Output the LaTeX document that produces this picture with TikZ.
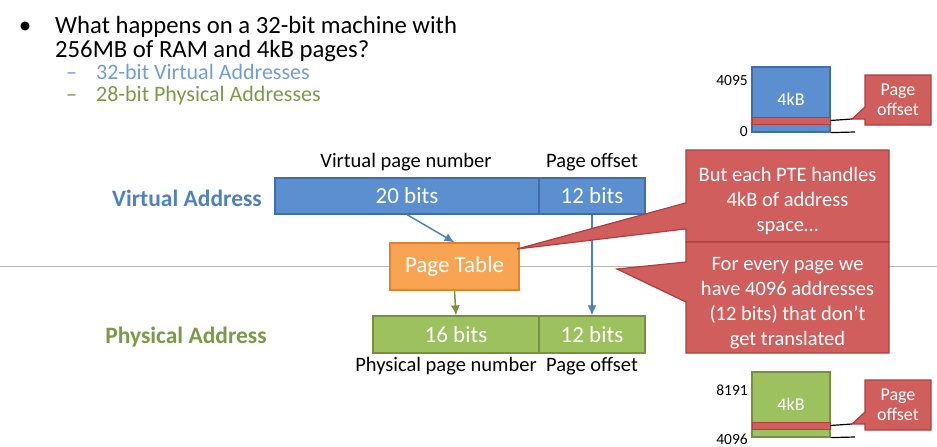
\documentclass[tikz,border=0pt]{standalone}
\usepackage{fontspec}
\setmainfont{Carlito}
\usetikzlibrary{shapes.callouts, arrows.meta}
\definecolor{vfill}{RGB}{91,143,207}
\definecolor{vline}{RGB}{65,110,168}
\definecolor{pfill}{RGB}{158,193,96}
\definecolor{pline}{RGB}{118,146,62}
\definecolor{ofill}{RGB}{249,164,82}
\definecolor{oline}{RGB}{226,130,45}
\definecolor{nfill}{RGB}{208,94,92}
\definecolor{nline}{RGB}{176,62,60}
\definecolor{vtext}{RGB}{79,129,189}
\definecolor{vsub}{RGB}{112,158,212}
\definecolor{ptext}{RGB}{125,153,72}

\begin{document}
\begin{tikzpicture}[x=1pt, y=-1pt,
    bar/.style={draw, line width=1.2pt, text=white, inner sep=0pt, font=\fontsize{23}{25}\selectfont},
    vbar/.style={bar, fill=vfill, draw=vline},
    pbar/.style={bar, fill=pfill, draw=pline},
    strip/.style={draw=nline, fill=nfill, line width=.8pt, minimum width=78pt, minimum height=7pt, inner sep=0pt},
    lbl/.style={font=\fontsize{20.5}{22}\selectfont},
    num/.style={anchor=east, inner sep=0pt, font=\fontsize{15.5}{17}\selectfont},
    note/.style={rectangle callout, fill=nfill, draw=nline, line width=1.2pt, text=white, align=center, inner sep=0pt},
    arr/.style={-{Latex[length=10pt, width=9pt]}, line width=1.5pt}]
    \useasboundingbox (0,0) rectangle (937,447);
    \draw[gray!55, line width=1pt] (0,266) -- (937,266);

    \node[anchor=base, inner sep=0pt, font=\fontsize{25}{28}\selectfont] (dot) at (25,33) {•};
    \node[anchor=base west, inner sep=0pt, font=\fontsize{24.7}{28}\selectfont] (q1) at (55,33) {What happens on a 32-bit machine with};
    \node[anchor=base west, inner sep=0pt, font=\fontsize{24.7}{28}\selectfont] (q2) at (55,57) {256MB of RAM and 4kB pages?};
    \node[anchor=base west, inner sep=0pt, text=vsub, font=\fontsize{22}{24}\selectfont] (s1) at (66,79) {–\hspace{19pt}32-bit Virtual Addresses};
    \node[anchor=base west, inner sep=0pt, text=ptext, font=\fontsize{22}{24}\selectfont] (s2) at (66,101) {–\hspace{19pt}28-bit Physical Addresses};

    \node[text=vtext, font=\bfseries\fontsize{23.5}{26}\selectfont] (va) at (187,198) {Virtual Address};
    \node[text=ptext, font=\bfseries\fontsize{23.5}{26}\selectfont] (pa) at (186,337) {Physical Address};

    \node[vbar, minimum width=264pt, minimum height=36pt] (vpn) at (407,196) {20 bits};
    \node[vbar, minimum width=106pt, minimum height=36pt] (voff) at (592,196) {12 bits};
    \node[lbl] (vpnl) at (406,162) {Virtual page number};
    \node[lbl] (voffl) at (592,162) {Page offset};

    \node[bar, fill=ofill, draw=oline, minimum width=129pt, minimum height=47pt] (pt) at (454.5,266.5) {Page Table};

    \node[pbar, minimum width=166pt, minimum height=37pt] (ppn) at (456,334.5) {16 bits};
    \node[pbar, minimum width=106pt, minimum height=37pt] (poff) at (592,334.5) {12 bits};
    \node[lbl] (ppnl) at (446,366) {Physical page number};
    \node[lbl] (poffl) at (592,366) {Page offset};

    \draw[arr, vtext] (vpn.south) -- (pt.north);
    \draw[arr, vtext] (voff.south) -- (poff.north);
    \draw[arr, pline] (pt.south) -- (ppn.north);

    \coordinate (tip1) at (517,249);
    \coordinate (tip2) at (617,269);
    \node[note, minimum width=203pt, minimum height=92pt, callout absolute pointer={(tip1)}, callout pointer width=26pt, font=\fontsize{20.5}{25}\selectfont, text height=75pt, text depth=4pt] (pte) at (787.5,196) {But each PTE handles\\4kB of address\\space…};
    \node[note, minimum width=203pt, minimum height=111pt, callout absolute pointer={(tip2)}, callout pointer width=40pt, font=\fontsize{20.5}{25}\selectfont, text height=100pt, text depth=4pt] (every) at (787.5,297.5) {For every page we\\have 4096 addresses\\(12 bits) that don’t\\get translated};

    % memory pages
    \node[vbar, minimum width=78pt, minimum height=65pt, font=\fontsize{18}{20}\selectfont] (vpage) at (791,99.5) {4kB};
    \node[strip] (vstrip) at (791,120.5) {};
    \node[num] (vhi) at (748,81) {4095};
    \node[num] (vlo) at (748,132) {0};
    \coordinate (vtip) at (852,119);
    \coordinate (vend) at (855,132);
    \draw[line width=1.2pt] (vstrip.east) -- (vtip);
    \draw[line width=1.2pt] (vpage.south east) -- (vend);
    \node[note, minimum width=66pt, minimum height=50pt, callout absolute pointer={(vtip)}, callout pointer width=12pt, font=\fontsize{18}{20}\selectfont] (voffn) at (898,100) {Page\\offset};

    \node[pbar, minimum width=78pt, minimum height=65pt, font=\fontsize{18}{20}\selectfont] (ppage) at (791,404.5) {4kB};
    \node[strip] (pstrip) at (791,425.5) {};
    \node[num] (phi) at (748,390) {8191};
    \node[num] (plo) at (748,439) {4096};
    \coordinate (ptip) at (852,424);
    \coordinate (pend) at (855,437);
    \draw[line width=1.2pt] (pstrip.east) -- (ptip);
    \draw[line width=1.2pt] (ppage.south east) -- (pend);
    \node[note, minimum width=66pt, minimum height=50pt, callout absolute pointer={(ptip)}, callout pointer width=12pt, font=\fontsize{18}{20}\selectfont] (poffn) at (898,405) {Page\\offset};
\end{tikzpicture}
\end{document}
